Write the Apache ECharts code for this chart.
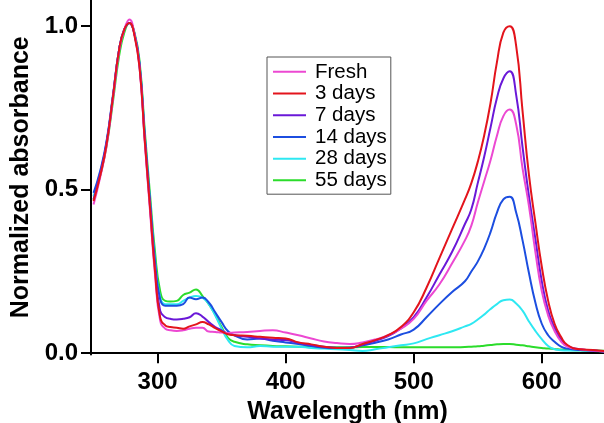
<!DOCTYPE html>
<html>
<head>
<meta charset="utf-8">
<script src="https://cdn.jsdelivr.net/npm/echarts@6.0.0/dist/echarts.min.js"></script>
<style>
    html, body { margin: 0; padding: 0; background: #fff; }
    #chart { width: 604px; height: 423px; }
</style>
</head>
<body>
<div id="chart"></div>
<script>
    // wavelengths (nm), shared by all spectra
    const wavelengths = [250, 255, 260, 265, 270, 274, 278, 282, 286, 290, 294, 298, 302, 306, 310,
        315, 320, 325, 330, 335, 340, 345, 350, 355, 360,
        370, 380, 390, 400, 410, 420, 430, 440, 450, 460, 470, 480, 490,
        500, 510, 520, 530, 540, 545, 550, 555, 560, 565, 570, 575, 580, 585, 590, 595, 600, 605, 610, 615, 620, 630, 640, 650];

    const fresh = [.455, .535, .63, .775, .925, .99, 1.02, .975, .87, .645, .44, .24, .1, .075, .07,
        .068, .07, .075, .078, .078, .066, .065, .063, .062, .063,
        .065, .068, .07, .063, .055, .045, .036, .031, .028, .033, .042, .055, .075,
        .105, .16, .21, .275, .345, .39, .46, .525, .59, .665, .725, .745, .70, .565, .45, .31, .19, .115, .068, .036, .02, .012, .008, .005];
    const days3 = [.465, .54, .635, .78, .93, .99, 1.01, .97, .87, .65, .45, .25, .11, .085, .08,
        .078, .075, .082, .088, .095, .088, .077, .067, .058, .055,
        .053, .05, .047, .045, .033, .027, .02, .016, .016, .028, .04, .055, .08,
        .125, .2, .29, .38, .47, .52, .585, .665, .765, .89, .98, 1.0, .94, .74, .545, .40, .265, .16, .09, .05, .025, .012, .01, .006];
    const days7 = [.47, .545, .64, .78, .93, .99, 1.01, .975, .875, .655, .455, .26, .13, .11, .105,
        .103, .105, .11, .122, .112, .095, .08, .07, .06, .055,
        .05, .045, .042, .04, .032, .025, .02, .017, .017, .026, .038, .052, .076,
        .11, .17, .24, .31, .395, .44, .52, .6, .69, .78, .84, .862, .79, .63, .48, .35, .22, .13, .078, .042, .022, .012, .008, .005];
    const days14 = [.49, .555, .645, .785, .93, .99, 1.01, .975, .88, .665, .47, .28, .165, .145, .145,
        .145, .15, .17, .165, .17, .155, .125, .095, .067, .055,
        .042, .045, .038, .033, .028, .022, .017, .016, .017, .024, .032, .042, .057,
        .072, .11, .15, .187, .22, .25, .28, .32, .37, .43, .47, .478, .43, .345, .245, .155, .09, .055, .035, .02, .014, .01, .008, .006];
    const days28 = [.48, .55, .64, .78, .93, .99, 1.01, .975, .88, .665, .47, .285, .17, .15, .15,
        .15, .16, .17, .175, .17, .15, .115, .075, .04, .022,
        .018, .022, .02, .02, .02, .016, .014, .012, .01, .007, .012, .018, .024,
        .03, .043, .055, .067, .082, .09, .103, .118, .135, .15, .162, .164, .152, .13, .097, .068, .043, .022, .012, .009, .008, .008, .007, .006];
    const days55 = [.47, .54, .63, .765, .91, .98, 1.01, .98, .89, .68, .49, .31, .19, .16, .158,
        .16, .178, .185, .195, .175, .15, .118, .08, .047, .035,
        .027, .024, .022, .021, .02, .019, .018, .018, .018, .019, .019, .019, .018,
        .018, .018, .018, .018, .019, .02, .021, .023, .025, .027, .028, .028, .026, .024, .021, .018, .016, .014, .013, .011, .01, .009, .008, .007];

    const names = ['Fresh', '3 days', '7 days', '14 days', '28 days', '55 days'];
    const spectra = [fresh, days3, days7, days14, days28, days55];
    const colors = ['#ec48d2', '#e3141c', '#6a18d8', '#1c4ee0', '#2ee8f2', '#2bdc2b'];
    // drawing order: red ends on top
    const zOrder = [5, 6, 4, 3, 2, 1];

    const xTicks = [300, 400, 500, 600];
    const yTicks = [0, 0.5, 1.0];

    const font = '"Liberation Sans", Arial, Helvetica, sans-serif';

    let option = {
        animation: false,
        grid: {left: 91, right: 0, top: 0, bottom: 68.5, outerBoundsMode: 'none'},
        legend: {
            data: names,
            orient: 'vertical',
            left: 267,
            top: 57,
            icon: 'rect',
            itemWidth: 33,
            itemHeight: 2,
            itemGap: 0,
            padding: [4, 4, 3, 6],
            borderColor: '#555',
            borderWidth: 1,
            textStyle: {fontFamily: font, fontSize: 20.5, color: '#000', lineHeight: 21.7, padding: [0, 0, 0, 4]}
        },
        xAxis: {
            type: 'value',
            min: 248,
            max: 648.6,
            name: 'Wavelength (nm)',
            nameLocation: 'middle',
            nameGap: 38,
            nameTextStyle: {fontFamily: font, fontSize: 25, fontWeight: 'bold', color: '#000'},
            axisLine: {lineStyle: {color: '#000', width: 2}},
            axisTick: {show: true, length: 10, lineStyle: {width: 2, color: '#000'}, customValues: xTicks},
            axisLabel: {fontFamily: font, fontSize: 24, fontWeight: 'bold', color: '#000', margin: 16, customValues: xTicks},
            splitLine: {show: false}
        },
        yAxis: {
            type: 'value',
            min: -0.004,
            max: 1.08,
            name: 'Normalized absorbance',
            nameLocation: 'middle',
            nameGap: 55,
            nameTextStyle: {fontFamily: font, fontSize: 25, fontWeight: 'bold', color: '#000'},
            axisLine: {show: true, lineStyle: {color: '#000', width: 2}},
            axisTick: {show: true, length: 10, lineStyle: {width: 2, color: '#000'}, customValues: yTicks},
            axisLabel: {fontFamily: font, fontSize: 24, fontWeight: 'bold', color: '#000', margin: 13,
                customValues: yTicks, formatter: v => v.toFixed(1)},
            splitLine: {show: false}
        },
        series: names.map((name, i) => ({
            name: name,
            type: 'line',
            z: zOrder[i],
            smooth: 0.5,
            symbol: 'none',
            lineStyle: {color: colors[i], width: 2},
            itemStyle: {color: colors[i]},
            data: wavelengths.map((w, k) => [w, spectra[i][k]])
        }))
    };

    let myChart = echarts.init(document.getElementById('chart'));
    myChart.setOption(option);
</script>
</body>
</html>
